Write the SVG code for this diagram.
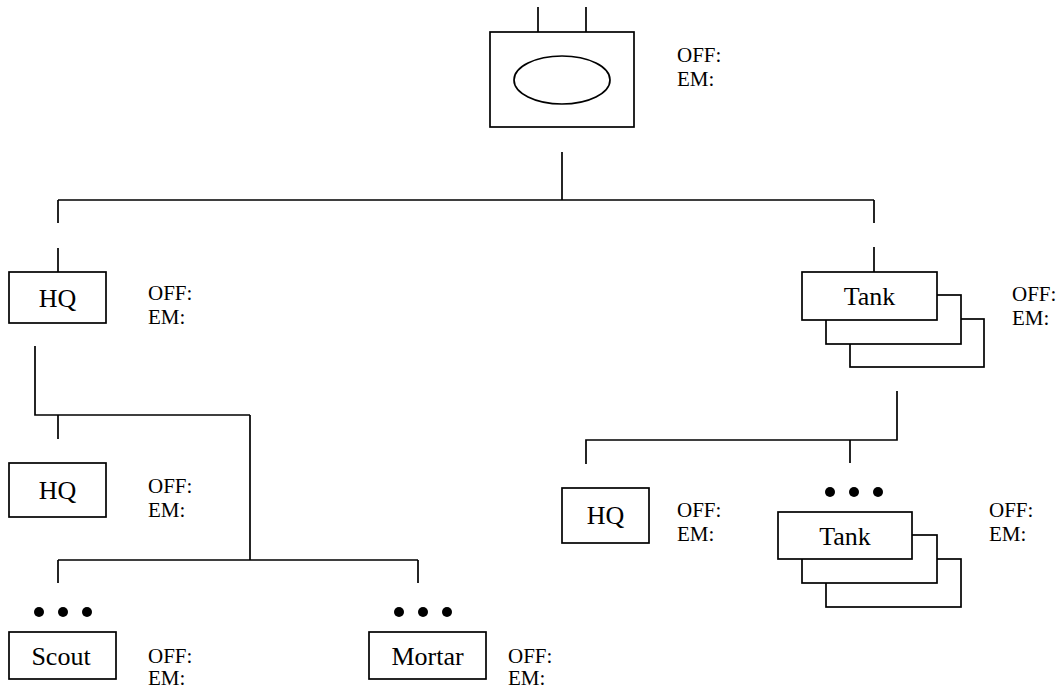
<svg xmlns="http://www.w3.org/2000/svg" width="1061" height="689" viewBox="0 0 1061 689">
<style>
  .box{fill:#fff;stroke:#000;stroke-width:1.7}
  .ln{fill:none;stroke:#000;stroke-width:1.7}
  text{font-family:'Liberation Serif','DejaVu Serif','Times New Roman',serif;fill:#000}
  .lbl{font-size:26px;text-anchor:middle}
  .info{font-size:21px}
  .dot{fill:#000}
</style>
<rect width="1061" height="689" fill="#fff"/>
<g id="connectors" class="ln">
  <path d="M538 7V32M586 7V32"/>
  <path d="M562 152V200M58 200H874M58 200V223M874 200V223M58 248V272M874 247V272"/>
  <path d="M35 346V415H250M58 415V439M250 415V560M58 560H418M58 560V583M418 560V583"/>
  <path d="M897 391V440H586V464M850 440V463"/>
</g>
<g id="top">
  <rect class="box" x="490" y="32" width="144" height="95"/>
  <ellipse class="box" cx="562" cy="80" rx="48" ry="24"/>
  <text class="info" font-family="Liberation Serif, serif" x="677" y="62">OFF:</text>
  <text class="info" font-family="Liberation Serif, serif" x="677" y="86">EM:</text>
</g>
<g id="hq1">
  <rect class="box" x="9" y="272" width="97" height="51"/>
  <text class="lbl" font-family="Liberation Serif, serif" x="57.5" y="307">HQ</text>
  <text class="info" font-family="Liberation Serif, serif" x="148" y="300">OFF:</text>
  <text class="info" font-family="Liberation Serif, serif" x="148" y="324">EM:</text>
</g>
<g id="tank1">
  <rect class="box" x="850" y="319" width="134" height="48"/>
  <rect class="box" x="826" y="295" width="135" height="49"/>
  <rect class="box" x="802" y="272" width="135" height="48"/>
  <text class="lbl" font-family="Liberation Serif, serif" x="869.5" y="305">Tank</text>
  <text class="info" font-family="Liberation Serif, serif" x="1012" y="301">OFF:</text>
  <text class="info" font-family="Liberation Serif, serif" x="1012" y="325">EM:</text>
</g>
<g id="hq2">
  <rect class="box" x="9" y="463" width="97" height="54"/>
  <text class="lbl" font-family="Liberation Serif, serif" x="57.5" y="499">HQ</text>
  <text class="info" font-family="Liberation Serif, serif" x="148" y="493">OFF:</text>
  <text class="info" font-family="Liberation Serif, serif" x="148" y="517">EM:</text>
</g>
<g id="hq3">
  <rect class="box" x="562" y="488" width="87" height="55"/>
  <text class="lbl" font-family="Liberation Serif, serif" x="605.5" y="524">HQ</text>
  <text class="info" font-family="Liberation Serif, serif" x="677" y="517">OFF:</text>
  <text class="info" font-family="Liberation Serif, serif" x="677" y="541">EM:</text>
</g>
<g id="tank2">
  <circle class="dot" cx="830" cy="492" r="5"/>
  <circle class="dot" cx="854" cy="492" r="5"/>
  <circle class="dot" cx="878" cy="492" r="5"/>
  <rect class="box" x="826" y="559" width="135" height="48"/>
  <rect class="box" x="802" y="535" width="135" height="48"/>
  <rect class="box" x="778" y="512" width="134" height="47"/>
  <text class="lbl" font-family="Liberation Serif, serif" x="845" y="545">Tank</text>
  <text class="info" font-family="Liberation Serif, serif" x="989" y="517">OFF:</text>
  <text class="info" font-family="Liberation Serif, serif" x="989" y="541">EM:</text>
</g>
<g id="scout">
  <circle class="dot" cx="39" cy="612" r="5"/>
  <circle class="dot" cx="63" cy="612" r="5"/>
  <circle class="dot" cx="87" cy="612" r="5"/>
  <rect class="box" x="9" y="632" width="107" height="47"/>
  <text class="lbl" font-family="Liberation Serif, serif" x="61" y="665">Scout</text>
  <text class="info" font-family="Liberation Serif, serif" x="148" y="663">OFF:</text>
  <text class="info" font-family="Liberation Serif, serif" x="148" y="685">EM:</text>
</g>
<g id="mortar">
  <circle class="dot" cx="399" cy="612" r="5"/>
  <circle class="dot" cx="423" cy="612" r="5"/>
  <circle class="dot" cx="447" cy="612" r="5"/>
  <rect class="box" x="369" y="632" width="117" height="47"/>
  <text class="lbl" font-family="Liberation Serif, serif" x="427.5" y="665">Mortar</text>
  <text class="info" font-family="Liberation Serif, serif" x="508" y="663">OFF:</text>
  <text class="info" font-family="Liberation Serif, serif" x="508" y="685">EM:</text>
</g>
</svg>
